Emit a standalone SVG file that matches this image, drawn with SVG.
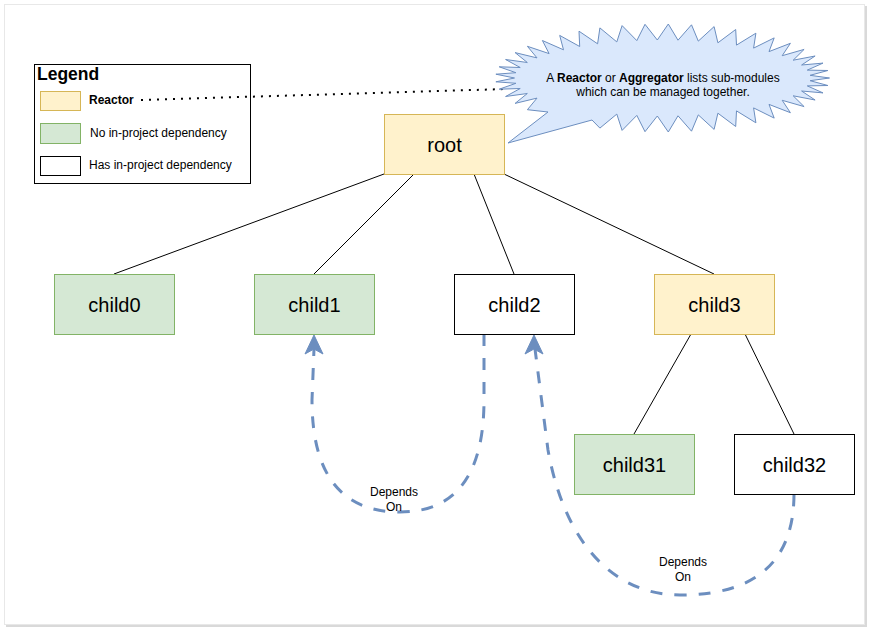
<svg xmlns="http://www.w3.org/2000/svg" width="870" height="631" viewBox="0 0 870 631">
<style>
.y{fill:#fff2cc;stroke:#d6b656;stroke-width:1}
.g{fill:#d5e8d4;stroke:#82b366;stroke-width:1}
.w{fill:#ffffff;stroke:#000000;stroke-width:1}
.lbl{font-family:"Liberation Sans",Arial,Helvetica,sans-serif;font-size:20px;text-anchor:middle;fill:#000}
.sm{font-family:"Liberation Sans",Arial,Helvetica,sans-serif;font-size:12px;fill:#000}
.mid{text-anchor:middle}
.b{font-weight:bold}
.tree{stroke:#000;stroke-width:1;fill:none}
.dep{stroke:#6c8ebf;stroke-width:3;fill:none;stroke-dasharray:12 12}
.ah{fill:#6c8ebf;stroke:#6c8ebf;stroke-width:1;stroke-linejoin:miter}
</style>
<rect x="0" y="0" width="870" height="631" fill="#ffffff"/>
<g id="page">
<rect x="6" y="6" width="861" height="621" fill="#d9d9d9"/>
<rect x="4.5" y="4.5" width="860" height="620" fill="#ffffff" stroke="#e8e8e8" stroke-width="1"/>
</g>
<g id="legend">
<rect x="34.5" y="64.5" width="216" height="119" fill="#ffffff" stroke="#000" stroke-width="1"/>
<text x="37" y="80" font-family="'Liberation Sans',Arial,sans-serif" font-size="17.5" font-weight="bold">Legend</text>
<rect class="y" x="40.5" y="91.5" width="40" height="19"/>
<text class="sm b" x="89" y="104.2">Reactor</text>
<rect class="g" x="40.5" y="123.5" width="40" height="20"/>
<text class="sm" x="90" y="136.5">No in-project dependency</text>
<rect class="w" x="40.5" y="156.5" width="40" height="19"/>
<text class="sm" x="89" y="169.2">Has in-project dependency</text>
</g>
<g id="connectors">
<line class="tree" x1="384" y1="174" x2="114" y2="274"/>
<line class="tree" x1="414" y1="174" x2="314" y2="274"/>
<line class="tree" x1="474" y1="174" x2="514" y2="274"/>
<line class="tree" x1="504" y1="174" x2="714" y2="274"/>
<line class="tree" x1="691" y1="334" x2="634" y2="434"/>
<line class="tree" x1="745" y1="334" x2="794" y2="434"/>
<line x1="141" y1="100" x2="506" y2="89" stroke="#000" stroke-width="2" stroke-dasharray="2 6"/>
<path class="dep" d="M484,334 L484,400 Q484,512 400,512 Q312,512 312,400 L314,349"/>
<polygon class="ah" points="314,335 323,354 314,349 305,354"/>
<path class="dep" d="M794,494 Q794,595 680,595 C615,595 565,545 548,450 L535,349"/>
<polygon class="ah" points="534,335 543,354 534,349 525,354"/>
<text class="sm mid" x="394" y="496">Depends</text>
<text class="sm mid" x="394" y="511">On</text>
<text class="sm mid" x="683" y="566">Depends</text>
<text class="sm mid" x="683" y="581">On</text>
</g>
<g id="callout">
<polygon fill="#dae8fc" stroke="#6c8ebf" stroke-width="1" stroke-linejoin="miter" points="829.5,78 810.1,80.7 827.9,85.5 807.3,85.9 823.0,92.9 801.6,91.0 815.1,100.0 793.2,95.8 804.1,106.6 782.2,100.3 790.4,112.7 769.0,104.4 774.2,118.1 753.6,107.9 755.9,122.8 736.5,110.9 735.7,126.5 717.9,113.2 714.1,129.4 698.3,114.9 691.5,131.2 678.0,115.8 668.3,132.0 657.3,116.0 645.0,131.7 636.8,115.4 622.1,130.4 616.8,114.1 599.9,128.1 592,120 508,143 548,112 527.4,109.7 537.0,98.1 515.1,103.4 527.3,93.5 505.6,96.5 520.2,88.5 499.2,89.2 515.9,83.3 495.9,81.8 514.5,78 495.9,74.2 515.9,72.7 499.2,66.8 520.2,67.5 505.6,59.5 527.3,62.5 515.1,52.6 537.0,57.9 527.4,46.3 549.1,53.6 542.4,40.5 563.5,49.8 559.7,35.4 579.7,46.5 579.0,31.2 597.6,43.8 599.9,27.9 616.8,41.9 622.1,25.6 636.8,40.6 645.0,24.3 657.3,40.0 668.3,24.0 678.0,40.2 691.5,24.8 698.3,41.1 714.1,26.6 717.9,42.8 735.7,29.5 736.5,45.1 755.9,33.2 753.6,48.1 774.2,37.9 769.0,51.6 790.4,43.3 782.2,55.7 804.1,49.4 793.2,60.2 815.1,56.0 801.6,65.0 823.0,63.1 807.3,70.1 827.9,70.5 810.1,75.3"/>
<text class="sm mid" x="663" y="81.5">A <tspan class="b">Reactor</tspan> or <tspan class="b">Aggregator</tspan> lists sub-modules</text>
<text class="sm mid" x="663" y="96">which can be managed together.</text>
</g>
<g id="root"><rect class="y" x="384.5" y="114.5" width="120" height="60"/><text class="lbl" x="444.5" y="151.5">root</text></g>
<g id="child0"><rect class="g" x="54.5" y="274.5" width="120" height="60"/><text class="lbl" x="114.5" y="311.5">child0</text></g>
<g id="child1"><rect class="g" x="254.5" y="274.5" width="120" height="60"/><text class="lbl" x="314.5" y="311.5">child1</text></g>
<g id="child2"><rect class="w" x="454.5" y="274.5" width="120" height="60"/><text class="lbl" x="514.5" y="311.5">child2</text></g>
<g id="child3"><rect class="y" x="654.5" y="274.5" width="120" height="60"/><text class="lbl" x="714.5" y="311.5">child3</text></g>
<g id="child31"><rect class="g" x="574.5" y="434.5" width="120" height="60"/><text class="lbl" x="634.5" y="471.5">child31</text></g>
<g id="child32"><rect class="w" x="734.5" y="434.5" width="120" height="60"/><text class="lbl" x="794.5" y="471.5">child32</text></g>
</svg>
